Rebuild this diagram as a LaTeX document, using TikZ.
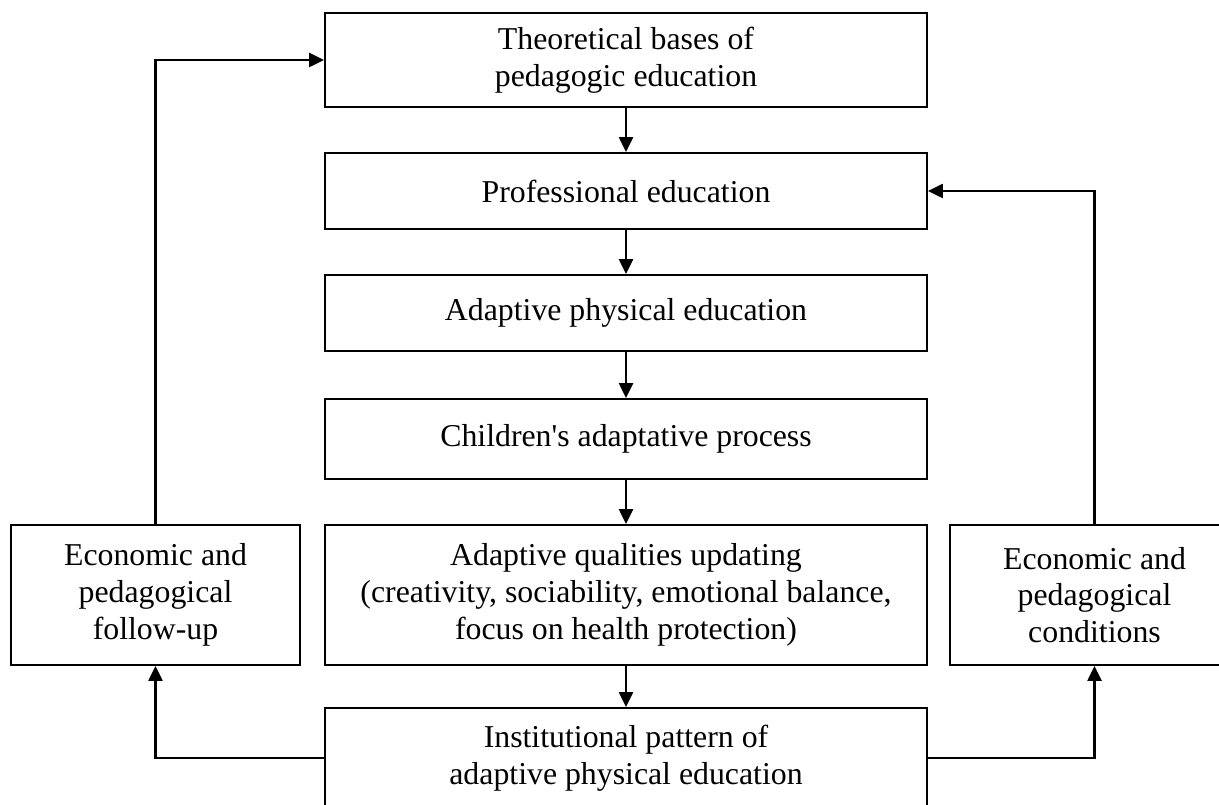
\documentclass[tikz,border=0pt]{standalone}
\usepackage{fontspec}
\setmainfont{Liberation Serif}
\usetikzlibrary{arrows.meta,positioning}

\tikzset{
  block/.style={draw, line width=1.1pt, inner sep=0pt, align=center,
    minimum width=12.04cm, font=\fontsize{18.1}{20.9}\selectfont},
  sidebox/.style={block, minimum width=5.78cm, minimum height=2.8cm},
  link/.style={->, line width=1.4pt},
  >={Triangle[length=0.3cm,width=0.28cm]}
}

\begin{document}
\begin{tikzpicture}
  \useasboundingbox (0,0) rectangle (24.38,16.1);   % page frame
  \clip (0,0) rectangle (24.38,16.1);

  \node[block, minimum height=1.88cm] (theory) at (12.52,14.9) {Theoretical bases of\\pedagogic education};
  \node[block, minimum height=1.52cm] (prof)   at (12.52,12.28) {Professional education};
  \node[block, minimum height=1.52cm] (ape)    at (12.52,9.84) {Adaptive physical education};
  \node[block, minimum height=1.6cm]  (child)  at (12.52,7.32) {Children\textquotesingle s adaptative process};
  \node[block, minimum height=2.8cm]  (qual)   at (12.52,4.2)
    {Adaptive qualities updating\\(creativity, sociability, emotional balance,\\focus on health protection)};
  \node[block, minimum height=2.0cm]  (inst)   at (12.52,0.94) {Institutional pattern of\\adaptive physical education};

  \node[sidebox] (followup) at (3.11,4.2)  {Economic and\\pedagogical\\follow-up};   % left side
  \node[sidebox] (cond)     at (21.89,4.2) {Economic and\\pedagogical\\conditions};  % right side

  % main chain
  \draw[link] (theory) -- (prof);
  \draw[link] (prof) -- (ape);
  \draw[link] (ape) -- (child);
  \draw[link] (child) -- (qual);

  % feedback loops
  \draw[link] (inst.west) -| (followup.south);
  \draw[link] (followup.north) |- (theory.west);
  \draw[link] (inst.east) -| (cond.south);
  \draw[link] (cond.north) |- (prof.east);
  \draw[link] (qual) -- (inst);
\end{tikzpicture}
\end{document}
